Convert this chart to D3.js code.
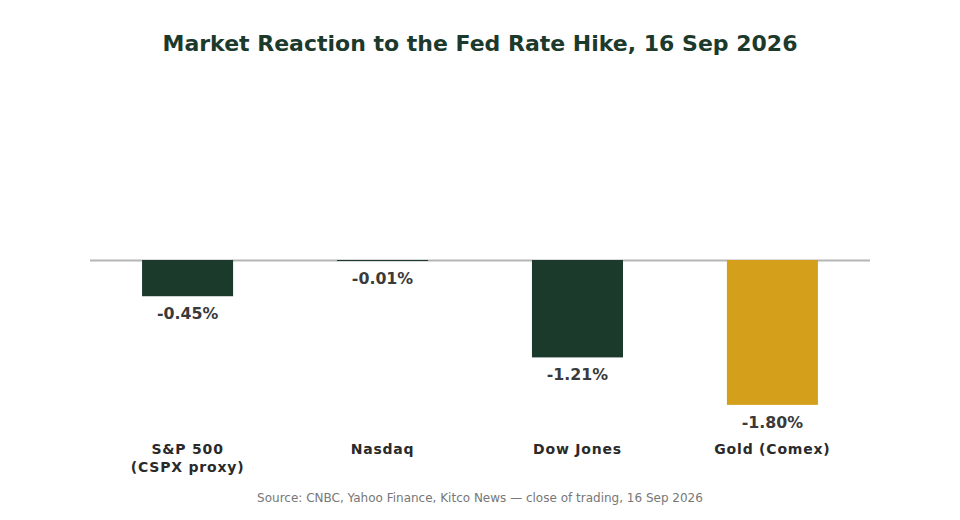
<!DOCTYPE html>
<html lang="en">
<head>
<meta charset="UTF-8">
<title>chart</title>
<script src="https://d3js.org/d3.v7.min.js"></script>
<style>
  body { margin: 0; background: #fff; }
  svg { display: block; }
  svg text { font-family: "DejaVu Sans", sans-serif; }
</style>
</head>
<body>
<svg width="960" height="520"></svg>
<script>
// data
const categories = ["S&P 500\n(CSPX proxy)", "Nasdaq", "Dow Jones", "Gold (Comex)"];
const changes = [-0.45, -0.01, -1.21, -1.80];
const barColors = ["#1c3a2c", "#1c3a2c", "#1c3a2c", "#d4a01c"];

const svg = d3.select("svg");

const x = d3.scaleBand()
    .domain(categories)
    .range([90, 870])
    .paddingInner(0.533)
    .paddingOuter(0.267);

const y = d3.scaleLinear()
    .domain([-2, 0])
    .range([421, 260]);

// title
svg.append("text")
    .attr("x", 480)
    .attr("y", 51)
    .attr("text-anchor", "middle")
    .attr("font-size", 22)
    .attr("font-weight", "bold")
    .attr("fill", "#1c3a2c")
    .text("Market Reaction to the Fed Rate Hike, 16 Sep 2026");

// zero line
svg.append("line")
    .attr("x1", 90).attr("x2", 870)
    .attr("y1", y(0) + 0.5).attr("y2", y(0) + 0.5)
    .attr("stroke", "#b5b5b5")
    .attr("stroke-width", 2);

// bars
svg.selectAll("rect.bar")
    .data(changes)
    .enter()
    .append("rect")
    .attr("class", "bar")
    .attr("x", (d, i) => x(categories[i]))
    .attr("y", d => y(Math.max(0, d)))
    .attr("width", x.bandwidth())
    .attr("height", d => Math.max(1, Math.abs(y(d) - y(0))))
    .attr("fill", (d, i) => barColors[i]);

// value labels
svg.selectAll("text.val")
    .data(changes)
    .enter()
    .append("text")
    .attr("class", "val")
    .attr("x", (d, i) => x(categories[i]) + x.bandwidth() / 2)
    .attr("y", d => Math.max(y(d), y(0) + 1) + 23)
    .attr("text-anchor", "middle")
    .attr("font-size", 15.8)
    .attr("font-weight", "bold")
    .attr("fill", "#3a3a3a")
    .text(d => d.toFixed(2) + "%");

// category labels
const xAxis = d3.axisBottom(x).tickSize(0).tickPadding(0);
const ax = svg.append("g")
    .attr("transform", "translate(0,440)")
    .call(xAxis);
ax.select(".domain").remove();
ax.selectAll(".tick text").remove();
ax.selectAll(".tick").each(function(d) {
    const t = d3.select(this).append("text")
        .attr("text-anchor", "middle")
        .attr("font-size", 14)
        .attr("letter-spacing", 0.8)
        .attr("font-weight", "bold")
        .attr("fill", "#2a2a2a");
    d.split("\n").forEach((line, k) => {
        t.append("tspan").attr("x", 0).attr("y", 14 + k * 18).text(line);
    });
});

// source
svg.append("text")
    .attr("x", 480)
    .attr("y", 502)
    .attr("text-anchor", "middle")
    .attr("font-size", 12)
    .attr("fill", "#777")
    .text("Source: CNBC, Yahoo Finance, Kitco News \u2014 close of trading, 16 Sep 2026");
</script>
</body>
</html>
